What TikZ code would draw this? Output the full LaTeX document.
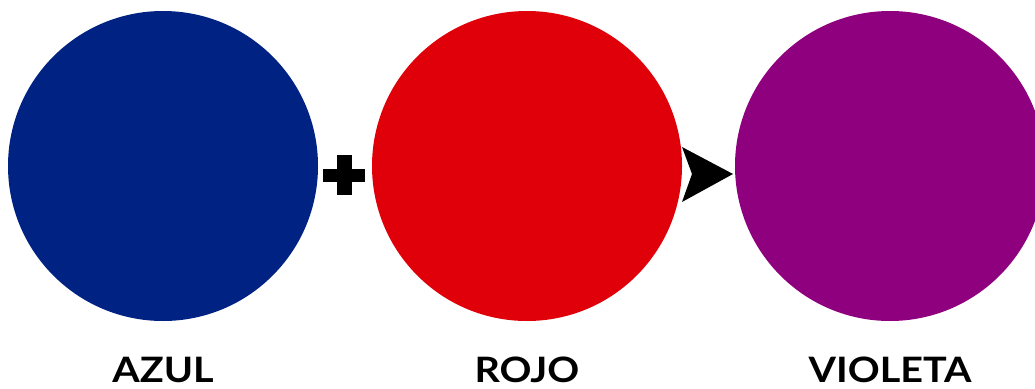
\documentclass[tikz,border=0pt]{standalone}
\usepackage{fontspec}
\setmainfont{Lato}
\usepackage{xcolor}
\usepackage{tikz}
\usetikzlibrary{positioning}
\definecolor{azulc}{RGB}{0, 35, 131}
\definecolor{rojoc}{RGB}{224, 0, 10}
\definecolor{violetac}{RGB}{142, 0, 125}

\begin{document}
\begin{tikzpicture}[x=1pt, y=-1pt,
  dot/.style={circle, inner sep=0pt, minimum size=310pt},
  colorlabel/.style={font=\fontsize{35}{35}\selectfont\bfseries, anchor=base,
    inner sep=0pt, xscale=1.13},
]
  % Canvas
  \useasboundingbox (0,0) rectangle (1035,388);
  \clip (0,0) rectangle (1035,388);

  % Colour circles
  \node[dot, fill=azulc] (azul) at (163,166) {};
  \node[dot, fill=rojoc] (rojo) at (527,166) {};
  \node[dot, fill=violetac] (violeta) at (890,166) {};

  % Labels
  \coordinate (base) at (0,382);
  \node[colorlabel] (azultxt) at (azul |- base) {AZUL};
  \node[colorlabel] (rojotxt) at (rojo |- base) {ROJO};
  \node[colorlabel] (violetatxt) at (violeta |- base) {VIOLETA};

  % Plus sign
  \coordinate (plus) at (344,175);
  \fill (plus) ++(-21,-6.5) rectangle ++(42,13);
  \fill (plus) ++(-7.5,-20) rectangle ++(15,40);

  % Arrow head
  \coordinate (tip) at (733,174);
  \fill (tip) -- ++(-51,-27) -- ++(10,27) -- ++(-10,28) -- cycle;

\end{tikzpicture}
\end{document}
